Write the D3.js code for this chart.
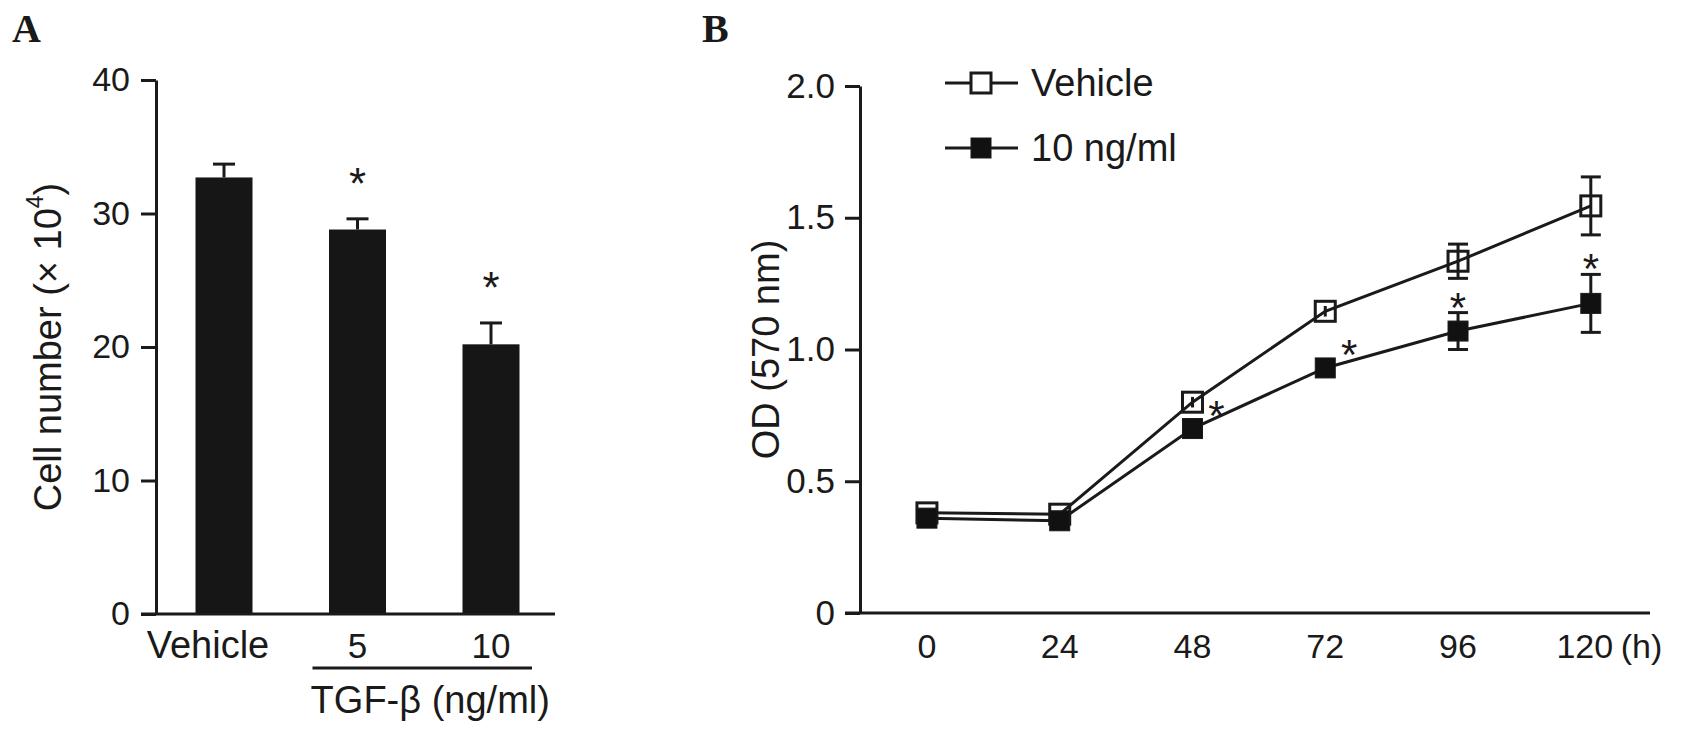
<!DOCTYPE html>
<html>
<head>
<meta charset="utf-8">
<script src="https://cdn.jsdelivr.net/npm/d3@7"></script>
<style>
  body { margin: 0; background: #fff; }
  text { font-family: "Liberation Sans", Arial, sans-serif; fill: #1a1a1a; }
  .panel { font-family: "Liberation Serif", "Times New Roman", serif; font-weight: bold; }
</style>
</head>
<body>
<svg id="chart" width="1681" height="736"></svg>
<script>
// panel A: cell number after 3 doses
var doses = ["Vehicle", "5", "10"];
var cellMean = [32.7, 28.8, 20.2];
var cellErr = [1.0, 0.8, 1.6];
var cellSig = [false, true, true];
var cellTicks = [0, 10, 20, 30, 40];

// panel B: OD over time
var hours = [0, 24, 48, 72, 96, 120];
var vehicleOD = [0.38, 0.375, 0.80, 1.145, 1.335, 1.545];
var vehicleErr = [0.01, 0.01, 0.02, 0.02, 0.065, 0.11];
var tgfOD = [0.36, 0.35, 0.70, 0.93, 1.07, 1.175];
var tgfErr = [0.01, 0.01, 0.02, 0.03, 0.07, 0.11];
var tgfSig = [false, false, true, true, true, true];
var odTicks = [0, 0.5, 1.0, 1.5, 2.0];
var odTickLabels = ["0", "0.5", "1.0", "1.5", "2.0"];
var seriesNames = ["Vehicle", "10 ng/ml"];

var ink = "#1a1a1a";
var numSize = 34;   // tick numbers
var wordSize = 38;  // words and titles
var svg = d3.select("#chart");

/* ---------- Panel A ---------- */
var gA = svg.append("g");

var yA = d3.scaleLinear().domain([0, 40]).range([614, 80]);
var xA = d3.scalePoint().domain(doses).range([224, 491]);
var barW = 57;

gA.append("text").attr("class", "panel")
  .attr("x", 12).attr("y", 42).attr("font-size", 40).text("A");

gA.selectAll("rect.bar")
  .data(doses)
  .enter()
  .append("rect")
  .attr("class", "bar")
  .attr("x", function(d) { return xA(d) - barW / 2; })
  .attr("y", function(d, i) { return yA(cellMean[i]); })
  .attr("width", barW)
  .attr("height", function(d, i) { return yA(0) - yA(cellMean[i]); })
  .attr("fill", "#161616");

// error bars, upward only
gA.selectAll("line.err")
  .data(doses)
  .enter()
  .append("line")
  .attr("x1", function(d) { return xA(d); })
  .attr("x2", function(d) { return xA(d); })
  .attr("y1", function(d, i) { return yA(cellMean[i]); })
  .attr("y2", function(d, i) { return yA(cellMean[i] + cellErr[i]); })
  .attr("stroke", ink).attr("stroke-width", 3);

gA.selectAll("line.cap")
  .data(doses)
  .enter()
  .append("line")
  .attr("x1", function(d) { return xA(d) - 11; })
  .attr("x2", function(d) { return xA(d) + 11; })
  .attr("y1", function(d, i) { return yA(cellMean[i] + cellErr[i]); })
  .attr("y2", function(d, i) { return yA(cellMean[i] + cellErr[i]); })
  .attr("stroke", ink).attr("stroke-width", 3);

gA.selectAll("text.star")
  .data(doses.filter(function(d, i) { return cellSig[i]; }))
  .enter()
  .append("text")
  .attr("x", function(d) { return xA(d); })
  .attr("y", function(d) {
    var i = doses.indexOf(d);
    return yA(cellMean[i] + cellErr[i]) - 20;
  })
  .attr("text-anchor", "middle")
  .attr("font-size", 44)
  .text("*");

// y axis
var axA = gA.append("g")
  .attr("transform", "translate(156,0)")
  .call(d3.axisLeft(yA).tickValues(cellTicks).tickSize(15).tickPadding(11).tickSizeOuter(0));
axA.select(".domain").attr("stroke", ink).attr("stroke-width", 3);
axA.selectAll(".tick line").attr("stroke", ink).attr("stroke-width", 3);
axA.selectAll(".tick text").attr("font-size", numSize).attr("fill", ink);

// x axis line
gA.append("line")
  .attr("x1", 141).attr("x2", 555)
  .attr("y1", yA(0)).attr("y2", yA(0))
  .attr("stroke", ink).attr("stroke-width", 3);

gA.selectAll("text.cat")
  .data(doses)
  .enter()
  .append("text")
  .attr("x", function(d, i) { return xA(d) - (i === 0 ? 16 : 0); })
  .attr("y", 658)
  .attr("text-anchor", "middle")
  .attr("font-size", function(d, i) { return i === 0 ? wordSize : numSize + 1; })
  .text(function(d) { return d; });

gA.append("line")
  .attr("x1", xA("5") - 45).attr("x2", xA("10") + 41)
  .attr("y1", 668).attr("y2", 668)
  .attr("stroke", ink).attr("stroke-width", 3);

gA.append("text")
  .attr("x", (xA("5") + xA("10")) / 2 + 6)
  .attr("y", 713)
  .attr("text-anchor", "middle")
  .attr("font-size", wordSize)
  .text("TGF-β (ng/ml)");

var labA = gA.append("text")
  .attr("transform", "translate(48," + (yA(0) + yA(40)) / 2 + ") rotate(-90)")
  .attr("text-anchor", "middle")
  .attr("dominant-baseline", "central")
  .attr("font-size", wordSize);
labA.append("tspan").text("Cell number (× 10");
labA.append("tspan").attr("font-size", 23).attr("dy", -13).text("4");
labA.append("tspan").attr("dy", 13).text(")");

/* ---------- Panel B ---------- */
var gB = svg.append("g");

var yB = d3.scaleLinear().domain([0, 2]).range([613, 86]);
var xB = d3.scaleLinear().domain([-12.1, 130.7]).range([860, 1650]);

gB.append("text").attr("class", "panel")
  .attr("x", 702).attr("y", 42).attr("font-size", 40).text("B");

var axB = gB.append("g")
  .attr("transform", "translate(860,0)")
  .call(d3.axisLeft(yB).tickValues(odTicks).tickSize(15).tickPadding(10).tickSizeOuter(0)
    .tickFormat(function(d, i) { return odTickLabels[i]; }));
axB.select(".domain").attr("stroke", ink).attr("stroke-width", 3);
axB.selectAll(".tick line").attr("stroke", ink).attr("stroke-width", 3);
axB.selectAll(".tick text").attr("font-size", numSize + 1).attr("fill", ink);

gB.append("line")
  .attr("x1", 845).attr("x2", 1650)
  .attr("y1", yB(0)).attr("y2", yB(0))
  .attr("stroke", ink).attr("stroke-width", 3);

var lastHour = hours[hours.length - 1];

gB.selectAll("text.hr")
  .data(hours)
  .enter()
  .append("text")
  .attr("x", function(d) { return xB(d) - (d === lastHour ? 6 : 0); })
  .attr("y", 658)
  .attr("text-anchor", "middle")
  .attr("font-size", numSize)
  .text(function(d) { return d; });

gB.append("text")
  .attr("x", xB(lastHour) + 30)
  .attr("y", 658)
  .attr("font-size", numSize)
  .text("(h)");

gB.append("text")
  .attr("transform", "translate(766," + (yB(0) + yB(2)) / 2 + ") rotate(-90)")
  .attr("text-anchor", "middle")
  .attr("dominant-baseline", "central")
  .attr("font-size", wordSize)
  .text("OD (570 nm)");

var series = [
  { name: seriesNames[0], mean: vehicleOD, err: vehicleErr, filled: false },
  { name: seriesNames[1], mean: tgfOD, err: tgfErr, filled: true }
];

var line = d3.line()
  .x(function(d) { return xB(d.h); })
  .y(function(d) { return yB(d.v); });

var mk = 20;

series.forEach(function(s) {
  var pts = hours.map(function(h, i) { return { h: h, v: s.mean[i], e: s.err[i] }; });
  var g = gB.append("g");

  g.append("path")
    .datum(pts)
    .attr("d", line)
    .attr("fill", "none")
    .attr("stroke", ink)
    .attr("stroke-width", 3);

  g.selectAll("line.err")
    .data(pts)
    .enter()
    .append("line")
    .attr("x1", function(d) { return xB(d.h); })
    .attr("x2", function(d) { return xB(d.h); })
    .attr("y1", function(d) { return yB(d.v - d.e); })
    .attr("y2", function(d) { return yB(d.v + d.e); })
    .attr("stroke", ink).attr("stroke-width", 3);

  [1, -1].forEach(function(sign) {
    g.selectAll("line.cap" + sign)
      .data(pts.filter(function(d) { return yB(d.v - d.e) - yB(d.v + d.e) > mk; }))
      .enter()
      .append("line")
      .attr("x1", function(d) { return xB(d.h) - 10; })
      .attr("x2", function(d) { return xB(d.h) + 10; })
      .attr("y1", function(d) { return yB(d.v + sign * d.e); })
      .attr("y2", function(d) { return yB(d.v + sign * d.e); })
      .attr("stroke", ink).attr("stroke-width", 3);
  });

  g.selectAll("rect.mk")
    .data(pts)
    .enter()
    .append("rect")
    .attr("x", function(d) { return xB(d.h) - mk / 2; })
    .attr("y", function(d) { return yB(d.v) - mk / 2; })
    .attr("width", mk)
    .attr("height", mk)
    .attr("fill", s.filled ? "#111" : "none")
    .attr("stroke", ink)
    .attr("stroke-width", s.filled ? 1 : 3);
});

// significance marks for 10 ng/ml
gB.selectAll("text.star")
  .data(hours.filter(function(h, i) { return tgfSig[i]; }))
  .enter()
  .append("text")
  .attr("x", function(h) { return xB(h) + (h < 96 ? 24 : 0); })
  .attr("y", function(h) {
    var i = hours.indexOf(h);
    if (h < 96) return yB(tgfOD[i]) + 1;
    return yB(tgfOD[i] + tgfErr[i]) + 9;
  })
  .attr("text-anchor", "middle")
  .attr("font-size", 42)
  .text("*");

// legend
var leg = gB.append("g");
var legY = [83, 148];
series.forEach(function(s, i) {
  leg.append("line")
    .attr("x1", 945).attr("x2", 1018)
    .attr("y1", legY[i]).attr("y2", legY[i])
    .attr("stroke", ink).attr("stroke-width", 3);
  leg.append("rect")
    .attr("x", 981 - mk / 2).attr("y", legY[i] - mk / 2)
    .attr("width", mk).attr("height", mk)
    .attr("fill", s.filled ? "#111" : "#fff")
    .attr("stroke", ink).attr("stroke-width", s.filled ? 1 : 3);
  leg.append("text")
    .attr("x", 1031).attr("y", legY[i])
    .attr("dominant-baseline", "central")
    .attr("font-size", wordSize)
    .text(s.name);
});
</script>
</body>
</html>
